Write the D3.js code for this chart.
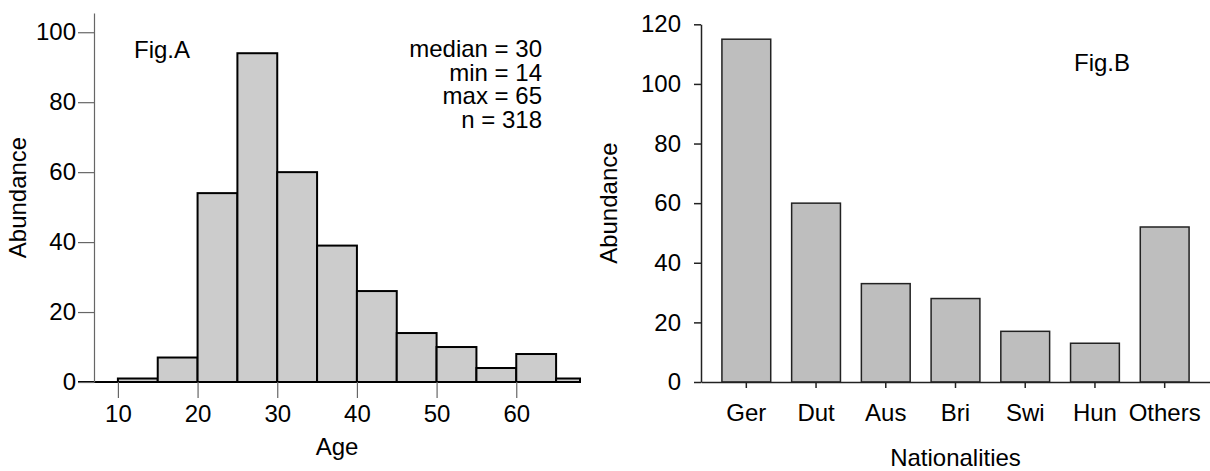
<!DOCTYPE html>
<html>
<head>
<meta charset="utf-8">
<script src="https://cdn.jsdelivr.net/npm/d3@7"></script>
<style>
    body { margin: 0; background: #fff; }
    svg text { font-family: "Liberation Sans", Arial, sans-serif; fill: #000; }
</style>
</head>
<body>
<svg id="chart"></svg>
<script>
// Fig.A - age histogram
const ageEdges = [10, 15, 20, 25, 30, 35, 40, 45, 50, 55, 60, 65, 70];
const ageCounts = [1, 7, 54, 94, 60, 39, 26, 14, 10, 4, 8, 1];
const ageTicks = [10, 20, 30, 40, 50, 60];
const ageYTicks = [0, 20, 40, 60, 80, 100];
const statLines = ["median = 30", "min = 14", "max = 65", "n = 318"];

// Fig.B - nationalities
const nations = ["Ger", "Dut", "Aus", "Bri", "Swi", "Hun", "Others"];
const nationCounts = [115, 60, 33, 28, 17, 13, 52];
const nationYTicks = [0, 20, 40, 60, 80, 100, 120];

const width = 1210;
const height = 471;
const fontSize = 24;

const svg = d3.select("#chart")
    .attr("width", width)
    .attr("height", height);

// ---------- Fig.A ----------
const xA = d3.scaleLinear().domain([7, 68]).range([94, 580]);
const yA = d3.scaleLinear().domain([0, 105.5]).range([382, 13]);

const figA = svg.append("g");

const bins = ageCounts.map((c, i) => ({x0: ageEdges[i], x1: Math.min(ageEdges[i + 1], 68), count: c}));

figA.selectAll("rect.bin")
    .data(bins)
    .enter().append("rect")
    .attr("class", "bin")
    .attr("x", d => xA(d.x0))
    .attr("y", d => yA(d.count))
    .attr("width", d => xA(d.x1) - xA(d.x0))
    .attr("height", d => yA(0) - yA(d.count))
    .attr("fill", "#cccccc")
    .attr("stroke", "#000")
    .attr("stroke-width", 2);

// baseline
figA.append("line")
    .attr("x1", 78).attr("x2", xA(68))
    .attr("y1", yA(0)).attr("y2", yA(0))
    .attr("stroke", "#000")
    .attr("stroke-width", 2);

const yAxisA = figA.append("g")
    .attr("transform", `translate(${xA(7)},0)`)
    .call(d3.axisLeft(yA).tickValues(ageYTicks).tickSize(16).tickSizeOuter(0).tickPadding(2));

const xAxisA = figA.append("g")
    .attr("transform", `translate(0,${yA(0)})`)
    .call(d3.axisBottom(xA).tickValues(ageTicks).tickSize(16).tickPadding(7));
xAxisA.select(".domain").remove();

[yAxisA, xAxisA].forEach(ax =>
{
    ax.selectAll("path, line").attr("stroke", "#666").attr("stroke-width", 1.2);
    ax.selectAll("text").attr("font-size", fontSize).attr("font-family", "Liberation Sans, Arial, sans-serif");
});

figA.append("text")
    .attr("x", 134).attr("y", 58)
    .attr("font-size", fontSize)
    .text("Fig.A");

figA.selectAll("text.stat")
    .data(statLines)
    .enter().append("text")
    .attr("class", "stat")
    .attr("x", 542)
    .attr("y", (d, i) => 57 + i * 23.7)
    .attr("text-anchor", "end")
    .attr("font-size", fontSize)
    .text(d => d);

figA.append("text")
    .attr("x", (xA(7) + xA(68)) / 2)
    .attr("y", 455)
    .attr("text-anchor", "middle")
    .attr("font-size", fontSize)
    .text("Age");

figA.append("text")
    .attr("transform", `translate(26,${(yA(0) + yA(105.5)) / 2}) rotate(-90)`)
    .attr("text-anchor", "middle")
    .attr("font-size", fontSize)
    .text("Abundance");

// ---------- Fig.B ----------
const xB = d3.scaleBand().domain(nations).range([701, 1210]).paddingInner(0.3).paddingOuter(0.3);
const yB = d3.scaleLinear().domain([0, 120]).range([382, 24.3]);

const figB = svg.append("g");

figB.selectAll("rect.bar")
    .data(nations)
    .enter().append("rect")
    .attr("class", "bar")
    .attr("x", d => xB(d))
    .attr("y", (d, i) => yB(nationCounts[i]))
    .attr("width", xB.bandwidth())
    .attr("height", (d, i) => yB(0) - yB(nationCounts[i]))
    .attr("fill", "#bebebe")
    .attr("stroke", "#222")
    .attr("stroke-width", 1.5);

const yAxisB = figB.append("g")
    .attr("transform", "translate(701,0)")
    .call(d3.axisLeft(yB).tickValues(nationYTicks).tickSize(7).tickSizeOuter(0).tickPadding(13));

const xAxisB = figB.append("g")
    .attr("transform", `translate(0,${yB(0)})`)
    .call(d3.axisBottom(xB).tickSize(6).tickSizeOuter(0).tickPadding(16));

[yAxisB, xAxisB].forEach(ax =>
{
    ax.selectAll("path, line").attr("stroke", "#222").attr("stroke-width", 1.5);
    ax.selectAll("text").attr("font-size", fontSize).attr("font-family", "Liberation Sans, Arial, sans-serif");
});

figB.append("text")
    .attr("x", 1074).attr("y", 71)
    .attr("font-size", fontSize)
    .text("Fig.B");

figB.append("text")
    .attr("x", 955.5)
    .attr("y", 466)
    .attr("text-anchor", "middle")
    .attr("font-size", fontSize)
    .text("Nationalities");

figB.append("text")
    .attr("transform", `translate(617,${(yB(0) + yB(120)) / 2}) rotate(-90)`)
    .attr("text-anchor", "middle")
    .attr("font-size", fontSize)
    .text("Abundance");
</script>
</body>
</html>
